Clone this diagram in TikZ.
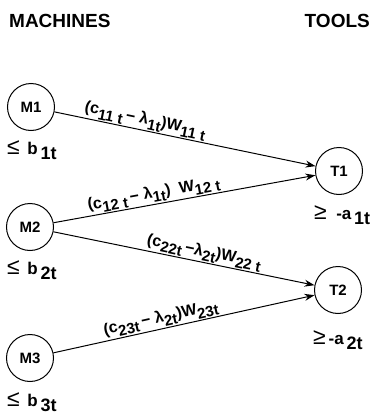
\documentclass[tikz,border=0pt]{standalone}
\usepackage{fontspec}
\setmainfont{Liberation Sans}
\usetikzlibrary{arrows.meta}
\newcommand{\sbs}[1]{\raisebox{-0.55ex}{\fontsize{15}{15}\selectfont #1}}
\newcommand{\bsb}[1]{\raisebox{-0.6ex}{\fontsize{18}{18}\selectfont #1}}
\newcommand{\rel}[1]{{\fontsize{23}{23}\selectfont\mdseries #1}}

\begin{document}
\begin{tikzpicture}[x=1pt,y=-1pt,font=\bfseries,>={Stealth[length=10pt,width=7pt]}]
            \useasboundingbox (0,0) rectangle (379,415);
            \tikzset{vert/.style={draw,circle,line width=1pt,minimum size=47pt,inner sep=0pt,font=\fontsize{15}{15}\selectfont\bfseries},
                     flow/.style={->,line width=1pt},
                     lab/.style={font=\fontsize{16}{16}\selectfont\bfseries,sloped,above,inner sep=1pt},
                     bnd/.style={font=\fontsize{17}{17}\selectfont\bfseries,anchor=west,inner sep=0pt}}
            \node[font=\fontsize{19}{19}\selectfont\bfseries,anchor=west,inner sep=0pt] (hm) at (9,21) {MACHINES};
            \node[font=\fontsize{19}{19}\selectfont\bfseries,anchor=east,inner sep=0pt] (ht) at (370,21) {TOOLS};
            \node[vert] (m1) at (31,107) {M1};
            \node[vert] (m2) at (30,227) {M2};
            \node[vert] (m3) at (30,358) {M3};
            \node[vert] (t1) at (339,171) {T1};
            \node[vert] (t2) at (338,290) {T2};
            \node[bnd] (b1) at (7,150) {\rel{≤}\, b\,\bsb{1t}};
            \node[bnd] (b2) at (7,270) {\rel{≤}\, b\,\bsb{2t}};
            \node[bnd] (b3) at (7,402) {\rel{≤}\, b\,\bsb{3t}};
            \node[bnd] (a1) at (314,215) {\rel{≥}\; -a\,\bsb{1t}};
            \node[bnd] (a2) at (313,340) {\rel{≥}\,-a\,\bsb{2t}};
            \draw[flow] (m1) -- node[lab,pos=0.34] {(c\sbs{11 t}\,− λ\sbs{1t})W\sbs{11 t}} (t1);
            \draw[flow] (m2) -- node[lab,pos=0.39] {(c\sbs{12 t}\,− λ\sbs{1t}) \ W\sbs{12 t}} (t1);
            \draw[flow] (m2) -- node[lab,pos=0.57] {(c\sbs{22t}\,−λ\sbs{2t})W\sbs{22 t}} (t2);
            \draw[flow] (m3) -- node[lab,pos=0.42] {(c\sbs{23t}\,− λ\sbs{2t})W\sbs{23t}} (t2);
        \end{tikzpicture}
\end{document}
